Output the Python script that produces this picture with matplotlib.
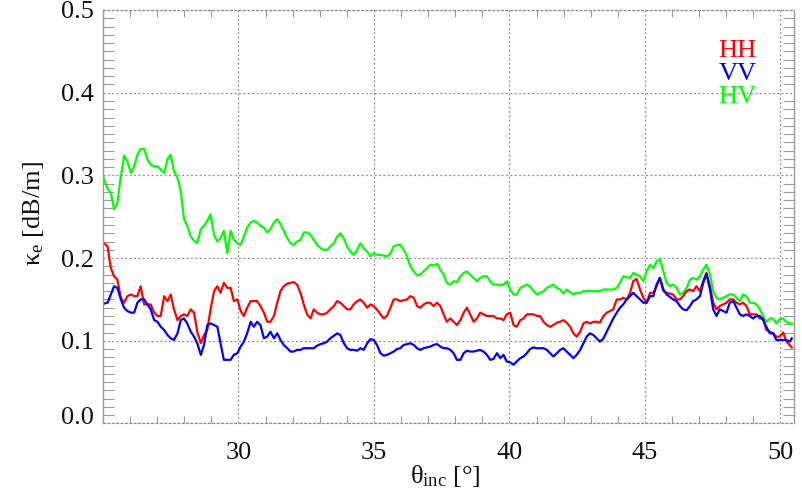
import matplotlib
matplotlib.use('Agg')
import matplotlib.pyplot as plt
from matplotlib.ticker import MultipleLocator

# incidence angle [deg]
theta = [
    25.01, 25.04, 25.17, 25.29, 25.41, 25.53, 25.66, 25.78, 25.90, 26.03, 26.15,
    26.27, 26.39, 26.52, 26.64, 26.76, 26.89, 27.01, 27.13, 27.26, 27.38,
    27.50, 27.62, 27.75, 27.87, 27.99, 28.11, 28.24, 28.36, 28.48, 28.61,
    28.73, 28.85, 28.97, 29.10, 29.22, 29.34, 29.46, 29.59, 29.71, 29.83,
    29.96, 30.08, 30.20, 30.32, 30.45, 30.57, 30.69, 30.81, 30.94, 31.06,
    31.18, 31.31, 31.43, 31.55, 31.67, 31.80, 31.92, 32.04, 32.16, 32.29,
    32.41, 32.53, 32.66, 32.78, 32.90, 33.03, 33.15, 33.27, 33.39, 33.52,
    33.64, 33.76, 33.89, 34.01, 34.13, 34.25, 34.38, 34.50, 34.62, 34.75,
    34.87, 34.99, 35.11, 35.24, 35.36, 35.48, 35.61, 35.73, 35.85, 35.97,
    36.10, 36.22, 36.34, 36.47, 36.59, 36.71, 36.83, 36.96, 37.08, 37.20,
    37.33, 37.45, 37.57, 37.69, 37.82, 37.94, 38.06, 38.19, 38.31, 38.43,
    38.55, 38.68, 38.80, 38.92, 39.04, 39.17, 39.29, 39.41, 39.54, 39.66,
    39.78, 39.90, 40.03, 40.15, 40.27, 40.40, 40.52, 40.64, 40.76, 40.89,
    41.01, 41.13, 41.26, 41.38, 41.50, 41.62, 41.75, 41.87, 41.99, 42.11,
    42.24, 42.36, 42.48, 42.61, 42.73, 42.85, 42.97, 43.10, 43.22, 43.34,
    43.47, 43.59, 43.71, 43.83, 43.96, 44.08, 44.20, 44.33, 44.45, 44.57,
    44.69, 44.82, 44.94, 45.06, 45.19, 45.31, 45.43, 45.55, 45.68, 45.80,
    45.92, 46.04, 46.17, 46.29, 46.41, 46.54, 46.66, 46.78, 46.90, 47.03,
    47.15, 47.27, 47.40, 47.52, 47.64, 47.76, 47.89, 48.01, 48.13, 48.26,
    48.38, 48.50, 48.62, 48.75, 48.87, 48.99, 49.12, 49.24, 49.36, 49.48,
    49.61, 49.73, 49.85, 49.97, 50.10, 50.22, 50.34, 50.42]

# extinction [dB/m]
kappa_hh = [
    0.218,
    0.218, 0.214, 0.188, 0.178, 0.174, 0.152, 0.146, 0.154, 0.156, 0.154,
    0.154, 0.166, 0.144, 0.144, 0.144, 0.134, 0.130, 0.130, 0.154, 0.148,
    0.156, 0.138, 0.125, 0.130, 0.132, 0.130, 0.138, 0.134, 0.111, 0.097,
    0.107, 0.113, 0.138, 0.160, 0.166,
    0.158, 0.170, 0.164, 0.164, 0.148, 0.150, 0.136, 0.130, 0.140, 0.148,
    0.148, 0.148, 0.142, 0.134, 0.123, 0.123, 0.130, 0.146, 0.160, 0.166,
    0.169, 0.170, 0.171, 0.168, 0.158, 0.144, 0.132, 0.127, 0.138, 0.134,
    0.132, 0.132, 0.134, 0.138, 0.142,
    0.148, 0.146, 0.142, 0.138, 0.138, 0.144, 0.148, 0.150, 0.146, 0.140,
    0.144, 0.142, 0.138, 0.132, 0.127, 0.130, 0.140, 0.150, 0.150, 0.148,
    0.149, 0.150, 0.154, 0.152, 0.142, 0.140, 0.144, 0.146, 0.146, 0.142,
    0.146, 0.142, 0.132, 0.123,
    0.127, 0.123, 0.119, 0.125, 0.134, 0.140, 0.132, 0.123, 0.127, 0.134,
    0.132, 0.130, 0.130, 0.130, 0.127, 0.127, 0.125, 0.132, 0.134, 0.119,
    0.117, 0.125, 0.127, 0.132, 0.132, 0.132, 0.130, 0.130, 0.123, 0.119,
    0.117, 0.119, 0.122, 0.123, 0.125,
    0.122, 0.117, 0.109, 0.105, 0.111, 0.121, 0.123, 0.121, 0.123, 0.123,
    0.122, 0.130, 0.134, 0.136, 0.138, 0.150, 0.150, 0.152, 0.150, 0.158,
    0.172, 0.175, 0.162, 0.152, 0.146, 0.158, 0.158, 0.166, 0.176, 0.160,
    0.158, 0.157, 0.156, 0.150,
    0.150, 0.154, 0.160, 0.162, 0.160, 0.166, 0.160, 0.172, 0.182, 0.166,
    0.146, 0.138, 0.142, 0.144, 0.146, 0.150, 0.150, 0.146, 0.144, 0.146,
    0.142, 0.132, 0.132, 0.132, 0.127, 0.127, 0.113, 0.111, 0.109, 0.105,
    0.105, 0.110, 0.099, 0.095, 0.092]

kappa_vv = [
    0.144,
    0.145, 0.146, 0.156, 0.166, 0.164, 0.150, 0.140, 0.136, 0.134, 0.134,
    0.146, 0.150, 0.150, 0.144, 0.138, 0.125, 0.123, 0.117, 0.113, 0.107,
    0.103, 0.101, 0.109, 0.125, 0.127, 0.121, 0.111, 0.105, 0.097, 0.083,
    0.095, 0.119, 0.121, 0.119, 0.117,
    0.097, 0.077, 0.077, 0.077, 0.083, 0.085, 0.093, 0.099, 0.109, 0.123,
    0.117, 0.123, 0.119, 0.103, 0.105, 0.111, 0.103, 0.109, 0.101, 0.095,
    0.091, 0.087, 0.087, 0.089, 0.089, 0.091, 0.091, 0.091, 0.091, 0.094,
    0.096, 0.097, 0.099, 0.103, 0.106,
    0.109, 0.107, 0.097, 0.091, 0.089, 0.089, 0.088, 0.091, 0.089, 0.097,
    0.102, 0.101, 0.095, 0.085, 0.082, 0.083, 0.085, 0.087, 0.090, 0.091,
    0.095, 0.096, 0.097, 0.095, 0.091, 0.089, 0.091, 0.092, 0.093, 0.095,
    0.096, 0.093, 0.091, 0.091,
    0.089, 0.085, 0.077, 0.077, 0.085, 0.088, 0.087, 0.087, 0.088, 0.089,
    0.087, 0.083, 0.077, 0.078, 0.085, 0.079, 0.083, 0.075, 0.074, 0.071,
    0.075, 0.079, 0.081, 0.085, 0.090, 0.092, 0.091, 0.091, 0.091, 0.089,
    0.085, 0.081, 0.085, 0.089, 0.091,
    0.087, 0.083, 0.079, 0.083, 0.089, 0.097, 0.105, 0.109, 0.107, 0.103,
    0.099, 0.103, 0.111, 0.119, 0.127, 0.134, 0.140, 0.144, 0.150, 0.154,
    0.158, 0.154, 0.150, 0.146, 0.146, 0.154, 0.154, 0.168, 0.176, 0.162,
    0.156, 0.153, 0.150, 0.148,
    0.142, 0.138, 0.137, 0.142, 0.148, 0.150, 0.154, 0.170, 0.181, 0.162,
    0.138, 0.130, 0.138, 0.136, 0.134, 0.146, 0.148, 0.140, 0.132, 0.130,
    0.132, 0.130, 0.127, 0.130, 0.130, 0.125, 0.117, 0.109, 0.109, 0.101,
    0.101, 0.101, 0.101, 0.099, 0.103]

kappa_hv = [
    0.299,
    0.295, 0.284, 0.279, 0.259, 0.267, 0.299, 0.324, 0.317, 0.303, 0.311,
    0.325, 0.332, 0.332, 0.319, 0.313, 0.311, 0.311, 0.307, 0.303, 0.320,
    0.325, 0.305, 0.297, 0.281, 0.247, 0.239, 0.226, 0.221, 0.218, 0.235,
    0.239, 0.245, 0.253, 0.228, 0.220,
    0.224, 0.233, 0.206, 0.233, 0.222, 0.218, 0.216, 0.226, 0.237, 0.243,
    0.245, 0.243, 0.239, 0.237, 0.231, 0.235, 0.243, 0.247, 0.241, 0.233,
    0.224, 0.218, 0.216, 0.220, 0.222, 0.231, 0.231, 0.228, 0.222, 0.216,
    0.212, 0.210, 0.210, 0.214, 0.218,
    0.226, 0.230, 0.224, 0.214, 0.208, 0.204, 0.210, 0.218, 0.212, 0.208,
    0.202, 0.206, 0.204, 0.204, 0.203, 0.202, 0.206, 0.214, 0.216, 0.216,
    0.210, 0.202, 0.190, 0.184, 0.179, 0.180, 0.184, 0.188, 0.192, 0.191,
    0.193, 0.186, 0.180, 0.170,
    0.168, 0.172, 0.171, 0.178, 0.182, 0.184, 0.180, 0.176, 0.172, 0.176,
    0.178, 0.178, 0.172, 0.168, 0.168, 0.167, 0.168, 0.172, 0.162, 0.156,
    0.156, 0.164, 0.166, 0.168, 0.166, 0.160, 0.156, 0.158, 0.160, 0.164,
    0.166, 0.168, 0.164, 0.162, 0.157,
    0.162, 0.159, 0.156, 0.158, 0.158, 0.160, 0.160, 0.160, 0.160, 0.160,
    0.160, 0.162, 0.162, 0.162, 0.162, 0.164, 0.170, 0.178, 0.177, 0.176,
    0.182, 0.180, 0.178, 0.172, 0.184, 0.192, 0.188, 0.196, 0.199, 0.184,
    0.170, 0.166, 0.168, 0.164,
    0.156, 0.158, 0.164, 0.174, 0.176, 0.174, 0.178, 0.186, 0.192, 0.180,
    0.160, 0.152, 0.150, 0.152, 0.154, 0.156, 0.156, 0.152, 0.148, 0.156,
    0.154, 0.146, 0.146, 0.144, 0.138, 0.130, 0.123, 0.127, 0.127, 0.121,
    0.126, 0.127, 0.123, 0.121, 0.121]

x_major = [30, 35, 40, 45, 50]
y_major = [0.0, 0.1, 0.2, 0.3, 0.4, 0.5]
y_labels = ['', '0.1', '0.2', '0.3', '0.4', '0.5']

pol_names = ['HH', 'VV', 'HV']
pol_colors = ['#ff0000', '#0000ff', '#00ff00']

plt.rcParams['font.family'] = ['Liberation Serif', 'DejaVu Serif']
plt.rcParams['mathtext.fontset'] = 'custom'
plt.rcParams['mathtext.rm'] = 'Liberation Serif'
plt.rcParams['mathtext.it'] = 'Liberation Serif:italic'

fs = 19
grid_col = '#8c8c8c'
dots = (0, (1.5, 2.0))

fig = plt.figure(figsize=(8.02, 4.97), dpi=100)
ax = fig.add_axes([0.1284, 0.1479, 0.8616, 0.8320])

ax.plot(theta, kappa_hv, color=pol_colors[2], lw=1.6)
ax.plot(theta, kappa_hh, color=pol_colors[0], lw=1.6)
ax.plot(theta, kappa_vv, color=pol_colors[1], lw=1.6)

ax.set_xlim(25, 50.5)
ax.set_ylim(0, 0.5)

ax.set_xticks(x_major)
ax.set_xticklabels([str(v) for v in x_major])
ax.set_yticks(y_major)
ax.set_yticklabels(y_labels)
ax.xaxis.set_minor_locator(MultipleLocator(1))
ax.yaxis.set_minor_locator(MultipleLocator(0.01))

ax.grid(True, which='major', color=grid_col, linestyle=dots, linewidth=0.9)

ax.tick_params(which='major', length=0, labelsize=fs, labelcolor='#111111')
ax.tick_params(axis='x', which='major', pad=13)
ax.tick_params(axis='y', which='major', pad=6.5)
ax.tick_params(axis='y', which='minor', direction='in', length=8, width=0.8,
               color='#9a9a9a', left=True, right=True)
ax.tick_params(axis='x', which='minor', direction='in', length=5, width=0.8,
               color='#9a9a9a', bottom=True, top=True)

for side in ['left', 'right']:
    ax.spines[side].set_color('#9a9a9a')
    ax.spines[side].set_linewidth(1.0)
for side in ['top', 'bottom']:
    ax.spines[side].set_color(grid_col)
    ax.spines[side].set_linestyle(dots)
    ax.spines[side].set_linewidth(0.9)

# the zero label sits a little above the axis in the original
ax.annotate('0.0', xy=(0, 0), xycoords=('axes fraction', 'data'),
            xytext=(-6.5, 6), textcoords='offset points', ha='right',
            va='center_baseline', fontsize=fs, color='#111111')

ax.set_xlabel(r'$\mathrm{\theta_{inc}}$ [°]', fontsize=fs, color='#111111')
ax.xaxis.set_label_coords(0.495, -0.095)
ax.set_ylabel(r'$\mathrm{\kappa_{e}}$ [dB/m]', fontsize=fs, color='#111111')
ax.yaxis.label.set_va('center')
ax.yaxis.set_label_coords(-0.101, 0.508)

for name, col, yb in zip(pol_names, pol_colors, [0.8856, 0.8307, 0.7758]):
    ax.text(0.891, yb, name, color=col, transform=ax.transAxes,
            ha='left', va='baseline', fontsize=fs)

fig.savefig('out.png', dpi=100)
